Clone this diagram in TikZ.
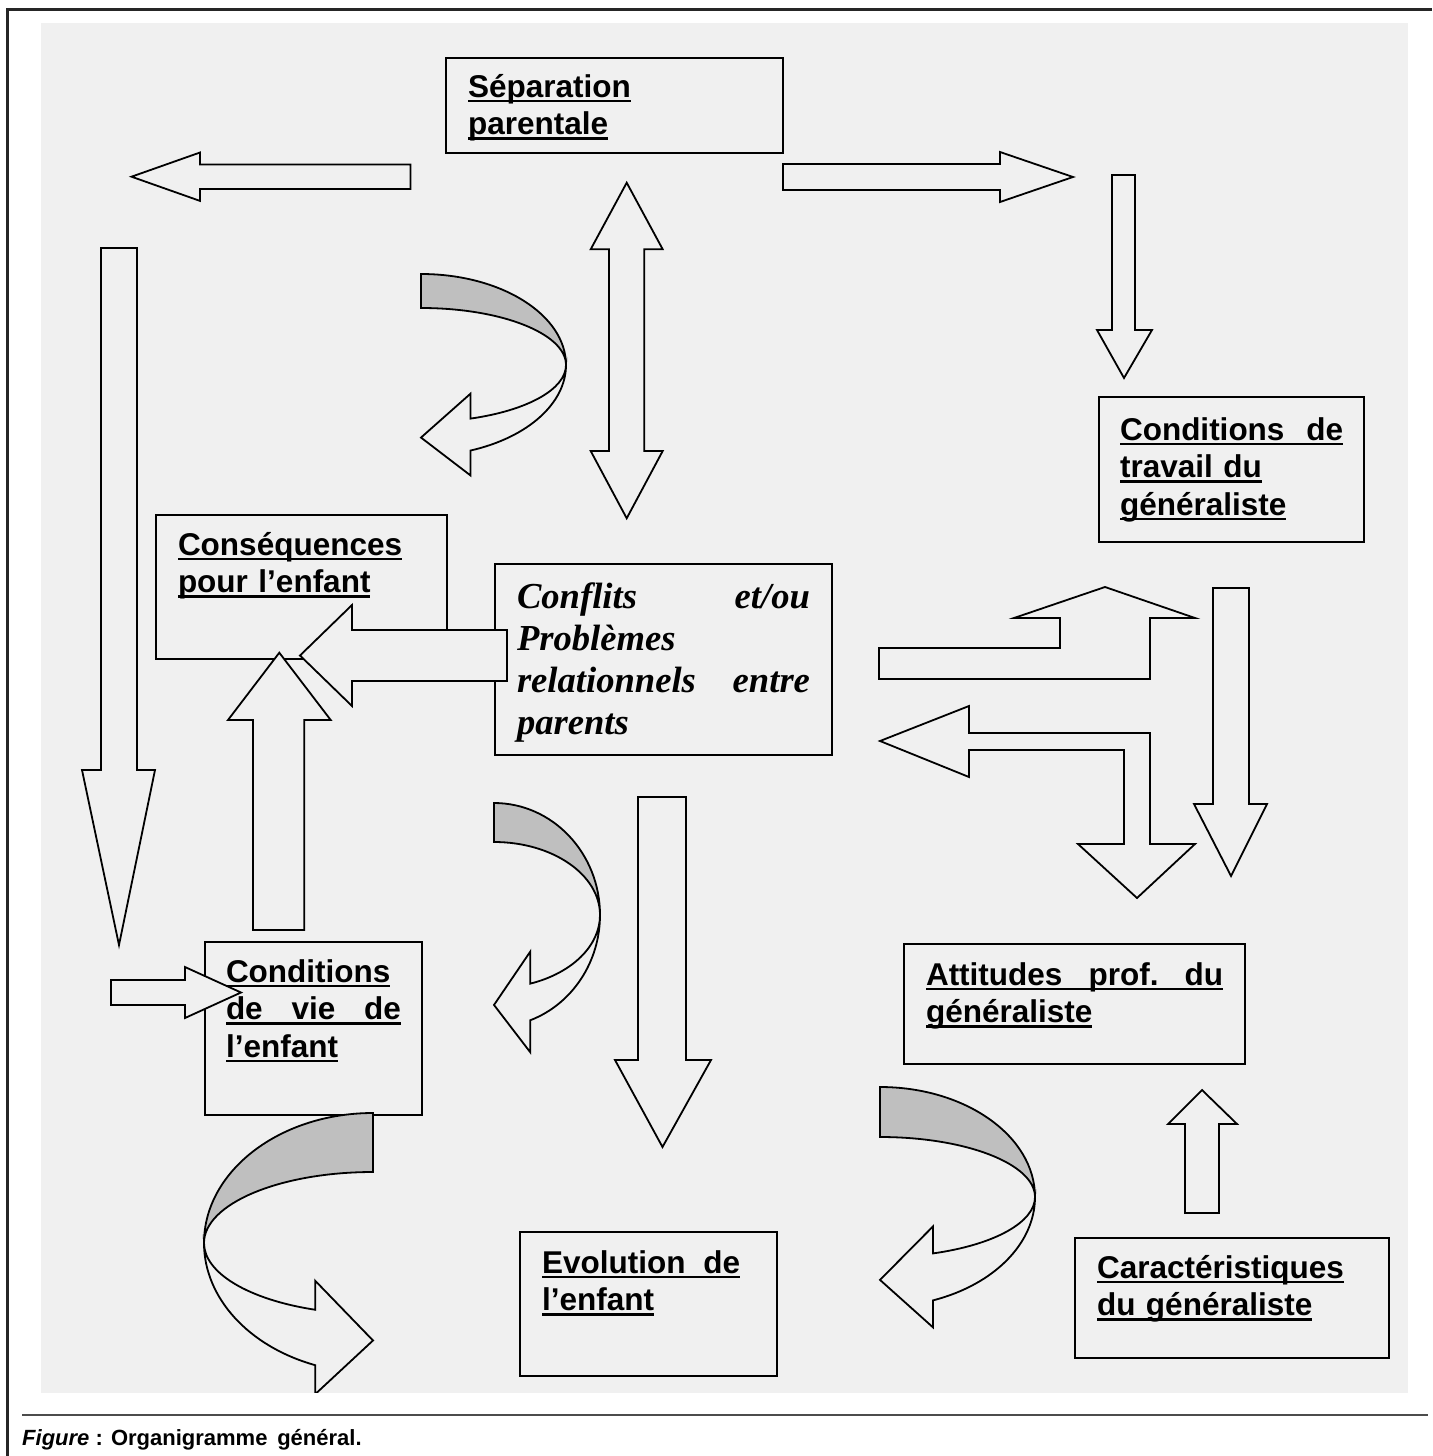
\documentclass[tikz,border=0pt]{standalone}
\usepackage{fontspec}
\setmainfont{Liberation Serif}
\setsansfont{Liberation Sans}
\usepackage{xcolor}
\usepackage{tikz}
\definecolor{paper}{gray}{0.94}
\definecolor{ribbon}{gray}{0.75}
\newcommand{\undl}[1]{\leavevmode\setbox0=\hbox{#1}\rlap{\rule[-5pt]{\wd0}{2.5pt}}\box0}
\newcommand{\twistarrow}[7]{%
  \begin{scope}[shift={(#1,#2)},xscale=#6]
    \filldraw[ribbonback] (0,-#4) arc[start angle=-90,end angle=0,x radius=#3,y radius=#4]
      arc[start angle=0,end angle=-90,x radius=#3,y radius=#5] -- cycle;
    \filldraw[ribbonfront] (#3,0) arc[start angle=0,end angle=70,x radius=#3,y radius=#4]
      -- ++(0,#7) -- (0,{0.47*(#4+#5)+3})
      -- ({0.342*#3},{0.94*#5-#7}) -- ({0.342*#3},{0.94*#5})
      arc[start angle=70,end angle=0,x radius=#3,y radius=#5] -- cycle;
  \end{scope}}
\tikzset{
  panel/.style={draw,rectangle,line width=2pt,anchor=north west,
    inner ysep=0pt,inner xsep=22pt,align=left,
    font=\sffamily\bfseries\fontsize{31.5}{37.5}\selectfont},
  conflict/.style={panel,font=\rmfamily\bfseries\itshape\fontsize{36.6}{42}\selectfont},
  blockarrow/.style={draw,fill=paper,line width=1.8pt,line join=miter},
  ribbonback/.style={draw,fill=ribbon,line width=1.8pt},
  ribbonfront/.style={draw,fill=paper,line width=1.8pt},
  caption/.style={anchor=base west,inner sep=0pt,
    font=\sffamily\bfseries\fontsize{22}{26}\selectfont}
}
\begin{document}
\begin{tikzpicture}[x=1pt,y=-1pt]
  \useasboundingbox (0,0) rectangle (1432,1456);
  \draw[line width=2.8pt,black!85] (6,9.5) -- (1432,9.5);
  \draw[line width=2.8pt,black!85] (7.5,8) -- (7.5,1456);
  \fill[paper] (40.7,22.7) rectangle (1407.7,1392.7);
  \draw[line width=1.4pt,black!70] (22,1415) -- (1428,1415);
  \node[caption] (legend) at (22,1445) {\textit{Figure}~: Organigramme\, général.};

  \begin{scope}
  \clip (40.7,22.7) rectangle (1407.7,1392.7);

  \node[panel,text width=293pt,text height=39pt,text depth=56pt] (separation) at (445,57)
    {\undl{Séparation}\\ \undl{parentale}};
  \node[panel,inner xsep=21pt,text width=223pt,text height=43pt,text depth=102pt] (travail) at (1098,396)
    {\undl{\makebox[223pt]{Conditions\hfill de}}\\ \undl{travail du}\\ \undl{généraliste}};
  \node[panel,text width=247pt,text height=40pt,text depth=104pt] (consequences) at (155,514)
    {\undl{Conséquences}\\ \undl{pour l’enfant}};
  \node[conflict,text width=293pt,text height=44pt,text depth=147pt] (conflits) at (494,563)
    {\makebox[293pt]{Conflits\hfill et/ou}\\ Problèmes\\ \makebox[293pt]{relationnels\hfill entre}\\ parents};
  \node[panel,inner xsep=21pt,text width=175pt,text height=40pt,text depth=133pt] (vie) at (204,941)
    {\undl{Conditions}\\ \undl{\makebox[175pt]{de\hfill vie\hfill de}}\\ \undl{l’enfant}};
  \node[panel,text width=297pt,text height=41pt,text depth=79pt] (attitudes) at (903,943)
    {\undl{\makebox[297pt]{Attitudes\hfill prof.\hfill du}}\\ \undl{généraliste}};
  \node[panel,text width=213pt,text height=41pt,text depth=103pt] (evolution) at (519,1231)
    {\undl{\makebox[198pt]{Evolution\hfill de}}\\ \undl{l’enfant}};
  \node[panel,text width=270pt,text height=40pt,text depth=80pt] (caracteristiques) at (1074,1237)
    {\undl{Caractéristiques}\\ \undl{du généraliste}};

  % block arrows
  \draw[blockarrow] (410.5,164.5) -- (200,164.5) -- (200,152.5) -- (131.5,176.7) -- (200,200.9) -- (200,189) -- (410.5,189) -- cycle;
  \draw[blockarrow] (783,164) -- (1000,164) -- (1000,152) -- (1073,177) -- (1000,202) -- (1000,190) -- (783,190) -- cycle;
  \draw[blockarrow] (626.7,182.7) -- (662.7,249.3) -- (644.3,249.3) -- (644.3,451) -- (662.7,451) -- (626.7,518.3)
    -- (590.7,451) -- (609,451) -- (609,249.3) -- (590.7,249.3) -- cycle;
  \draw[blockarrow] (1112,175) -- (1135,175) -- (1135,330) -- (1152,330) -- (1124,378) -- (1097,330) -- (1112,330) -- cycle;
  \draw[blockarrow] (101,248) -- (137,248) -- (137,770) -- (155,770) -- (119,945) -- (82,770) -- (101,770) -- cycle;
  \draw[blockarrow] (253,930) -- (253,720) -- (228,720) -- (279.3,652.7) -- (330.7,720) -- (304.3,720) -- (304.3,930) -- cycle;
  \draw[blockarrow] (507,630) -- (352,630) -- (352,605) -- (300,655.5) -- (352,706) -- (352,681) -- (507,681) -- cycle;
  \draw[blockarrow] (879,648) -- (1060,648) -- (1060,618) -- (1014,618) -- (1105,587) -- (1195,618) -- (1150,618)
    -- (1150,679) -- (879,679) -- cycle;
  \draw[blockarrow] (880,741) -- (969,706) -- (969,733) -- (1150,733) -- (1150,844) -- (1195,844) -- (1137,898)
    -- (1078,844) -- (1124,844) -- (1124,750) -- (969,750) -- (969,777) -- cycle;
  \draw[blockarrow] (1213,588) -- (1249,588) -- (1249,804) -- (1267,804) -- (1231,876) -- (1194,804) -- (1213,804) -- cycle;
  \draw[blockarrow] (638,797) -- (686,797) -- (686,1060) -- (711,1060) -- (662.5,1147) -- (615,1060) -- (638,1060) -- cycle;
  \draw[blockarrow] (111,980) -- (185,980) -- (185,967) -- (241,992.5) -- (185,1018) -- (185,1005) -- (111,1005) -- cycle;
  \draw[blockarrow] (1185,1213) -- (1185,1124) -- (1168,1124) -- (1202,1090) -- (1237,1124) -- (1219,1124) -- (1219,1213) -- cycle;

  % twisted arrows
  \twistarrow{421}{365}{145}{91}{57}{1}{25}
  \twistarrow{494}{915}{106}{112}{73}{1}{32}
  \twistarrow{373}{1243}{169}{130}{71}{-1}{29}
  \twistarrow{880}{1197}{155}{110}{60}{1}{27}
  \end{scope}
\end{tikzpicture}
\end{document}
